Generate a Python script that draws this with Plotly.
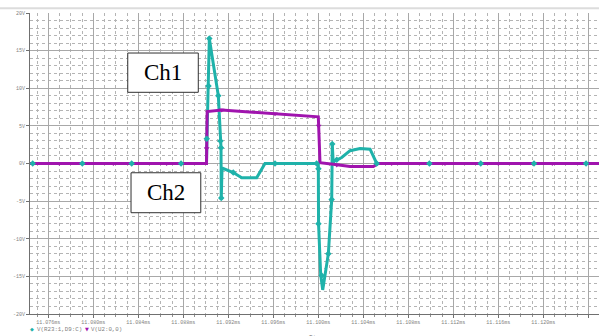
import plotly.graph_objects as go

# ---- data (time in ms, voltage in V) ----
ch1_t = [11.07437, 11.09006, 11.09010, 11.09031, 11.09111, 11.09126, 11.09135, 11.09137,
         11.09140, 11.09144, 11.09244, 11.09319, 11.09452, 11.09497, 11.09526, 11.10000,
         11.10002, 11.10021, 11.10039, 11.10089, 11.10119, 11.10124, 11.10133, 11.10140,
         11.10164, 11.10208, 11.10282, 11.10371, 11.10460, 11.10519, 11.12495]
ch1_v = [0.0, 0.0, 3.3, 16.6, 9.0, 3.3, 2.1, -4.8,
         -0.6, -0.6, -1.2, -1.9, -1.9, -0.7, 0.0, 0.0,
         -8.0, -14.8, -16.8, -12.0, -4.8, 2.6, -0.1, 0.3,
         0.5, 0.8, 1.7, 2.0, 1.9, 0.0, 0.0]

ch2_t = [11.07437, 11.09006, 11.09012, 11.09141, 11.10000, 11.10015, 11.10133,
         11.10282, 11.10489, 11.10533, 11.12495]
ch2_v = [0.0, 0.0, 6.9, 7.1, 6.2, 0.1, -0.1, -0.4, -0.4, 0.0, 0.0]

ch1_mark_t = [11.07461, 11.07902, 11.08341, 11.08780, 11.09008, 11.09024, 11.09031, 11.09111,
              11.09130, 11.09135, 11.09137, 11.09244, 11.09615, 11.09985, 11.10001, 11.10001,
              11.10030, 11.10089, 11.10119, 11.10124, 11.10164, 11.10519, 11.10987, 11.11444,
              11.11917, 11.12380]
ch1_mark_v = [0.0, 0.0, 0.0, 0.0, 3.3, 10.3, 16.6, 9.0,
              3.0, 2.1, -4.6, -1.2, 0.0, 0.0, -0.7, -8.0,
              -14.9, -12.0, -4.8, 2.6, 0.5, 0.0, 0.0, 0.0,
              0.0, 0.0]

ch2_mark_t = [11.07698, 11.08178, 11.08652, 11.09008, 11.09141, 11.09615, 11.10003, 11.10164,
              11.10652, 11.11126, 11.11600, 11.12080]
ch2_mark_v = [0.0, 0.0, 0.0, 2.0, 7.1, 6.6, 5.0, -0.2,
              0.0, 0.0, 0.0, 0.0]

x_tick_vals = [11.076, 11.080, 11.084, 11.088, 11.092, 11.096, 11.100, 11.104,
               11.108, 11.112, 11.116, 11.120, 11.124]
x_tick_text = ["11.076ms", "11.080ms", "11.084ms", "11.088ms", "11.092ms", "11.096ms",
               "11.100ms", "11.104ms", "11.108ms", "11.112ms", "11.116ms", "11.120ms",
               "11.124ms"]
y_tick_vals = [20, 15, 10, 5, 0, -5, -10, -15, -20]
y_tick_text = ["20V", "15V", "10V", "5V", "0V", "-5V", "-10V", "-15V", "-20V"]

series_names = ["V(R23:1,D9:C)", "V(U2:0,0)"]
box_labels = ["Ch1", "Ch2"]

TEAL = "#1fb2aa"
PURPLE = "#a014ae"

fig = go.Figure()
fig.add_trace(go.Scatter(x=ch1_t, y=ch1_v, mode="lines",
                         line=dict(color=TEAL, width=3), showlegend=False))
fig.add_trace(go.Scatter(x=ch2_t, y=ch2_v, mode="lines",
                         line=dict(color=PURPLE, width=3), showlegend=False))
fig.add_trace(go.Scatter(x=ch1_mark_t, y=ch1_mark_v, mode="markers",
                         marker=dict(symbol="diamond", size=5, color=TEAL), showlegend=False))
fig.add_trace(go.Scatter(x=ch2_mark_t, y=ch2_mark_v, mode="markers",
                         marker=dict(symbol="triangle-down", size=5, color=PURPLE), showlegend=False))

tickfont = dict(family="Liberation Mono", size=5, color="#808080")

fig.update_layout(
    width=599, height=336,
    margin=dict(l=30, r=0, t=13, b=22, autoexpand=False),
    paper_bgcolor="white", plot_bgcolor="white",
    xaxis=dict(range=[11.07437, 11.12495], tickmode="array", tickvals=x_tick_vals,
               ticktext=x_tick_text, tickfont=tickfont, showgrid=True, automargin=False,
               gridcolor="#a8a8a8", gridwidth=1, zeroline=False, showline=True,
               linecolor="#707070", linewidth=1, ticks="outside", ticklen=3,
               tickcolor="#707070",
               minor=dict(tickmode="linear", tick0=11.076, dtick=0.001, showgrid=True,
                          gridcolor="#b4b4b4", griddash="dot", ticks="outside",
                          ticklen=2, tickcolor="#909090")),
    yaxis=dict(range=[-20, 20], tickmode="array", tickvals=y_tick_vals,
               ticktext=y_tick_text, tickfont=tickfont, showgrid=True, automargin=False,
               gridcolor="#a8a8a8", gridwidth=1, zeroline=False, showline=True,
               linecolor="#707070", linewidth=1, ticks="outside", ticklen=3,
               tickcolor="#707070",
               minor=dict(tickmode="linear", tick0=0, dtick=1, showgrid=True,
                          gridcolor="#b4b4b4", griddash="dot")),
    font=dict(family="Liberation Mono"),
)

# top frame line
fig.add_shape(type="line", xref="paper", yref="paper", x0=-0.06, x1=1.0,
              y0=1.016, y1=1.016, line=dict(color="#dcdcdc", width=2))

# label boxes
fig.add_shape(type="rect", xref="x", yref="y", x0=11.08306, x1=11.08933, y0=9.46, y1=14.68,
              fillcolor="white", line=dict(color="#303030", width=1), layer="above")
fig.add_shape(type="rect", xref="x", yref="y", x0=11.08335, x1=11.08955, y0=-6.54, y1=-1.23,
              fillcolor="white", line=dict(color="#303030", width=1), layer="above")
fig.add_annotation(x=(11.08306 + 11.08933) / 2, y=(9.46 + 14.68) / 2, xref="x", yref="y",
                   text=box_labels[0], showarrow=False,
                   font=dict(family="Liberation Serif", size=23, color="black"))
fig.add_annotation(x=(11.08335 + 11.08955) / 2, y=(-6.54 - 1.23) / 2, xref="x", yref="y",
                   text=box_labels[1], showarrow=False,
                   font=dict(family="Liberation Serif", size=23, color="black"))

# legend-like labels at bottom
legfont = dict(family="Liberation Mono", size=5.8, color="#808080")
ly = (314.0 - 329.0) / 301.0
fig.add_annotation(x=(32 - 30) / 569, y=ly, xref="paper", yref="paper", xanchor="center",
                   yanchor="middle", text="◆", showarrow=False, borderpad=0,
                   font=dict(family="DejaVu Sans", size=5, color=TEAL))
fig.add_annotation(x=(35.5 - 30) / 569, y=ly, xref="paper", yref="paper", xanchor="left",
                   yanchor="middle", text=series_names[0], showarrow=False, borderpad=0,
                   font=legfont)
fig.add_annotation(x=(87 - 30) / 569, y=ly, xref="paper", yref="paper", xanchor="center",
                   yanchor="middle", text="▼", showarrow=False, borderpad=0,
                   font=dict(family="DejaVu Sans", size=5, color=PURPLE))
fig.add_annotation(x=(90 - 30) / 569, y=ly, xref="paper", yref="paper", xanchor="left",
                   yanchor="middle", text=series_names[1], showarrow=False, borderpad=0,
                   font=legfont)
fig.add_annotation(x=(316 - 30) / 569, y=(314.0 - 332.5) / 301.0, xref="paper", yref="paper",
                   xanchor="center", yanchor="top", text="Time", showarrow=False, borderpad=0,
                   font=legfont)

fig.write_html("out.html", config={"displayModeBar": False},
               post_script="document.body.style.margin='0px';")
